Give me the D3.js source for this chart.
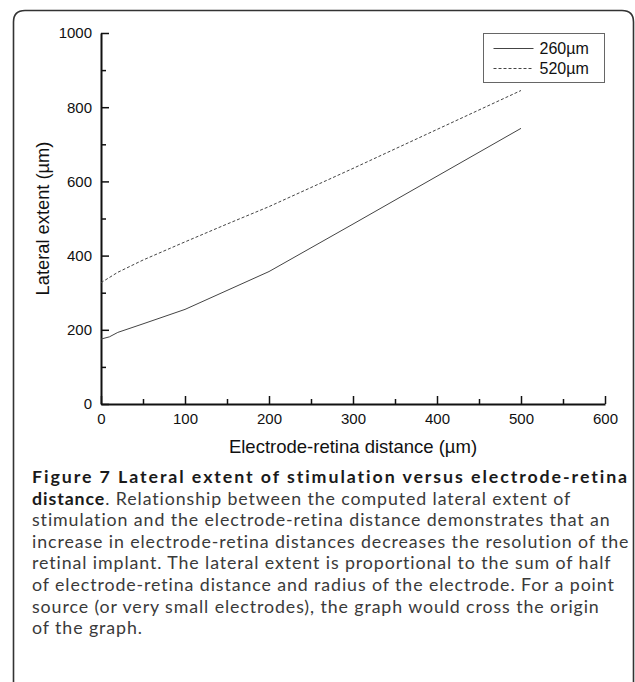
<!DOCTYPE html>
<html>
<head>
<meta charset="utf-8">
<script src="https://cdn.jsdelivr.net/npm/d3@7"></script>
<style>
  body { margin: 0; background: #fff; }
  svg { display: block; }
</style>
</head>
<body>
<svg id="chart" width="635" height="682"></svg>
<script>
'use strict';

// electrode-retina distance (µm)
const distances = [0, 10, 20, 50, 100, 150, 200, 300, 400, 500];
// lateral extent (µm) for each electrode diameter
const extent260 = [175, 181, 193, 216, 255, 306, 357, 485, 614, 743];
const extent520 = [327, 341, 355, 388, 437, 485, 532, 635, 740, 845];
const seriesNames = ['260µm', '520µm'];
const xTicks = [0, 100, 200, 300, 400, 500, 600];
const yTicks = [0, 200, 400, 600, 800, 1000];

const captionBold = 'Figure 7 Lateral extent of stimulation versus electrode-retina';
const captionLines = [
    ['distance', '. Relationship between the computed lateral extent of'],
    ['', 'stimulation and the electrode-retina distance demonstrates that an'],
    ['', 'increase in electrode-retina distances decreases the resolution of the'],
    ['', 'retinal implant. The lateral extent is proportional to the sum of half'],
    ['', 'of electrode-retina distance and radius of the electrode. For a point'],
    ['', 'source (or very small electrodes), the graph would cross the origin'],
    ['', 'of the graph.']
];

const PLOT = { left: 101, right: 605, top: 33, bottom: 404 };
const AXIS_FONT = 'Liberation Sans, Arial, sans-serif';

const svg = d3.select('#chart');

// frame round the figure, open at the bottom
svg.append('path')
    .attr('d', 'M13.5,682 V22 Q13.5,10.5 25,10.5 H622 Q633.5,10.5 633.5,22 V682')
    .attr('fill', 'none')
    .attr('stroke', '#333')
    .attr('stroke-width', 1.6);

const x = d3.scaleLinear().domain([0, 600]).range([PLOT.left, PLOT.right]);
const y = d3.scaleLinear().domain([0, 1000]).range([PLOT.bottom, PLOT.top]);

// minor ticks first, then the major axis on top
svg.append('g')
    .attr('transform', `translate(0,${PLOT.bottom})`)
    .call(d3.axisTop(x).tickValues(d3.range(50, 600, 100)).tickSize(5).tickFormat(''))
    .call(g => g.select('.domain').remove());
svg.append('g')
    .attr('transform', `translate(${PLOT.left},0)`)
    .call(d3.axisRight(y).tickValues(d3.range(100, 1000, 200)).tickSize(5).tickFormat(''))
    .call(g => g.select('.domain').remove());

const xAxis = svg.append('g')
    .attr('transform', `translate(0,${PLOT.bottom})`)
    .call(d3.axisTop(x).tickValues(xTicks).tickSize(8).tickSizeOuter(0).tickFormat(d3.format('d')));
xAxis.selectAll('text')
    .attr('y', 9)
    .attr('dy', '0.71em');

const yAxis = svg.append('g')
    .attr('transform', `translate(${PLOT.left},0)`)
    .call(d3.axisRight(y).tickValues(yTicks).tickSize(8).tickSizeOuter(0).tickFormat(d3.format('d')));
yAxis.selectAll('text')
    .attr('x', -9)
    .attr('text-anchor', 'end');

svg.selectAll('.tick line').attr('stroke', '#111').attr('stroke-width', 1.5);
svg.selectAll('.domain').attr('stroke', '#111').attr('stroke-width', 2);
svg.selectAll('.tick text')
    .attr('fill', '#111')
    .style('font-family', AXIS_FONT)
    .style('font-size', '15px');

svg.append('text')
    .attr('x', (PLOT.left + PLOT.right) / 2)
    .attr('y', 453)
    .attr('text-anchor', 'middle')
    .style('font-family', AXIS_FONT)
    .style('font-size', '18.5px')
    .attr('fill', '#111')
    .text('Electrode-retina distance (µm)');

svg.append('text')
    .attr('transform', `translate(49,${(PLOT.top + PLOT.bottom) / 2}) rotate(-90)`)
    .attr('text-anchor', 'middle')
    .style('font-family', AXIS_FONT)
    .style('font-size', '18.3px')
    .attr('fill', '#111')
    .text('Lateral extent (µm)');

const line = d3.line()
    .x((d, i) => x(distances[i]))
    .y(d => y(d));

const dashes = [null, '3,2'];
[extent260, extent520].forEach((values, i) => {
    svg.append('path')
        .datum(values)
        .attr('d', line)
        .attr('fill', 'none')
        .attr('stroke', '#444')
        .attr('stroke-width', 1)
        .attr('stroke-dasharray', dashes[i]);
});

// legend
const legend = svg.append('g').attr('transform', 'translate(483.5,33.5)');
legend.append('rect')
    .attr('width', 121)
    .attr('height', 49)
    .attr('fill', '#fff')
    .attr('stroke', '#666')
    .attr('stroke-width', 1);
seriesNames.forEach((name, i) => {
    const ly = 15 + i * 20;
    legend.append('line')
        .attr('x1', 10).attr('x2', 50)
        .attr('y1', ly).attr('y2', ly)
        .attr('stroke', '#444')
        .attr('stroke-width', 1)
        .attr('stroke-dasharray', dashes[i]);
    legend.append('text')
        .attr('x', 56)
        .attr('y', ly + 5.5)
        .style('font-family', AXIS_FONT)
        .style('font-size', '16px')
        .attr('fill', '#111')
        .text(name);
});

// caption
const CAPTION_FONT = 'Lato, "Open Sans", sans-serif';
const CAPTION_SIZE = 17.8;
const captionLeft = 32;
const captionWidth = 598;
const caption = svg.append('g')
    .style('font-family', CAPTION_FONT)
    .style('font-size', CAPTION_SIZE + 'px');

const boldLine = caption.append('text')
    .attr('x', captionLeft)
    .attr('y', 483)
    .style('font-weight', 'bold')
    .attr('fill', '#1a1a1a')
    .text(captionBold);

const lineNodes = captionLines.map((parts, i) => {
    const t = caption.append('text')
        .attr('x', captionLeft)
        .attr('y', 483 + (i + 1) * 21.6)
        .attr('fill', '#3a3a3a');
    if (parts[0]) {
        t.append('tspan').style('font-weight', 'bold').attr('fill', '#1a1a1a').text(parts[0]);
    }
    t.append('tspan').text(parts[1]);
    return t;
});

// widen the letter spacing so the longest line fills the caption width
const spacingFor = t => {
    const n = t.text().length;
    return (captionWidth - t.node().getComputedTextLength()) / n;
};
const spacing = d3.min(lineNodes, spacingFor);
lineNodes.forEach(t => t.style('letter-spacing', spacing + 'px'));
boldLine.style('letter-spacing', spacingFor(boldLine) + 'px');
</script>
</body>
</html>
